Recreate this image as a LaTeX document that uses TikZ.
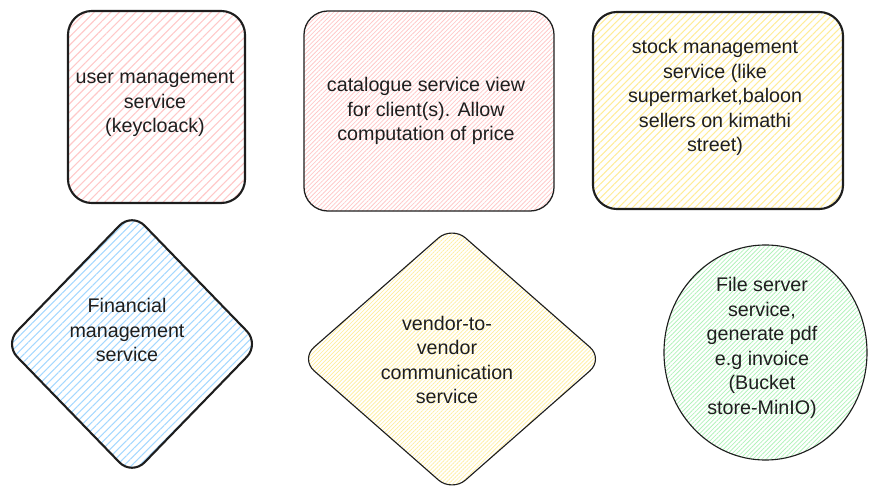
\documentclass[tikz,border=0pt]{standalone}
\usepackage{fontspec}
\setmainfont{Liberation Sans}
\usetikzlibrary{shapes.geometric,patterns.meta}
\definecolor{ink}{HTML}{1E1E1E}
\definecolor{hpink}{HTML}{FFC9C9}
\definecolor{hyellow}{HTML}{FFEC99}
\definecolor{hblue}{HTML}{A5D8FF}
\definecolor{hgreen}{HTML}{B2F2BB}
\tikzset{
  svc/.style={draw=ink, inner sep=0pt},
  hatch/.style 2 args={pattern={Lines[angle=45,distance=#1,line width=#2]}},
  txt/.style={align=center, font=\fontsize{14}{17.4}\selectfont, text=ink},
}

\begin{document}
\begin{tikzpicture}[x=0.025cm, y=-0.025cm]
    \useasboundingbox (0,0) rectangle (877,499);
    % top row
    \node[svc, line width=1.5pt, rounded corners=0.6cm, hatch={4.2pt}{0.8pt}, pattern color=hpink,
          minimum width=4.425cm, minimum height=4.8cm] (user) at (156.5,107) {};
    \node[svc, line width=0.9pt, rounded corners=0.6cm, hatch={2.2pt}{0.55pt}, pattern color=hpink,
          minimum width=6.25cm, minimum height=5cm] (catalogue) at (429,111) {};
    \node[svc, line width=1.5pt, rounded corners=0.6cm, hatch={3.5pt}{0.75pt}, pattern color=hyellow,
          minimum width=6.25cm, minimum height=4.925cm] (stock) at (718,110.5) {};
    % bottom row
    \node[svc, diamond, line width=1.5pt, rounded corners=0.45cm, hatch={3.8pt}{0.75pt}, pattern color=hblue,
          minimum width=6.375cm, minimum height=6.575cm] (finance) at (132,344) {};
    \node[svc, diamond, line width=0.8pt, rounded corners=0.45cm, hatch={2pt}{0.5pt}, pattern color=hyellow,
          minimum width=7.575cm, minimum height=6.65cm] (vendor) at (452,359) {};
    \node[svc, ellipse, line width=0.8pt, hatch={2.2pt}{0.55pt}, pattern color=hgreen,
          minimum width=5.075cm, minimum height=5.375cm] (files) at (765.5,352.5) {};

    \node[txt] (usertxt) at (155,104) {user management\\service\\(keycloack)};
    \node[txt] (cattxt) at (426,111) {catalogue service view\\for client(s). Allow\\computation of price};
    \node[txt] (stocktxt) at (715,97.5) {stock management\\service (like\\supermarket,baloon\\sellers on kimathi\\street)};
    \node[txt] (fintxt) at (127,330) {Financial\\management\\service};
    \node[txt] (vendortxt) at (447,360) {vendor-to-\\vendor\\communication\\service};
    \node[txt] (filetxt) at (762,348) {File server\\service,\\generate pdf\\e.g invoice\\(Bucket\\store-MinIO)};
\end{tikzpicture}
\end{document}
